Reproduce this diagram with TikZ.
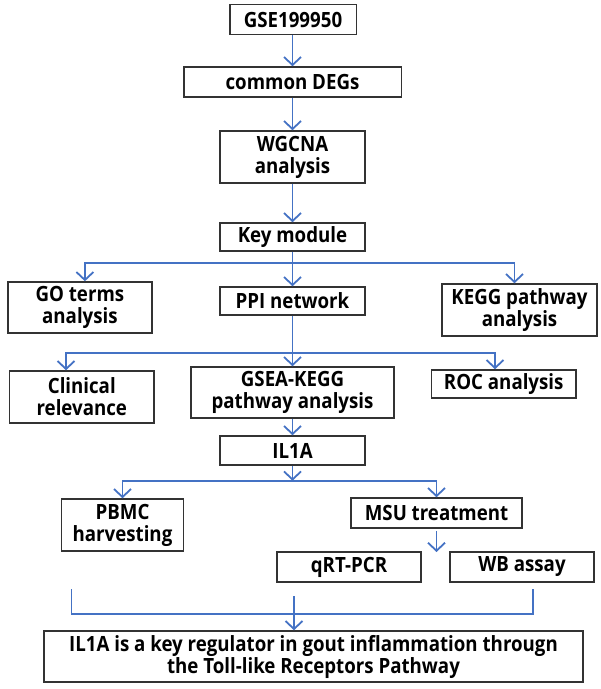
\documentclass[tikz,border=0pt]{standalone}
\usepackage{fontspec}
\setmainfont{Open Sans}[FakeStretch=0.89]
\usetikzlibrary{positioning, arrows.meta}
\definecolor{flowblue}{RGB}{68,114,196}
\tikzset{
	>={Straight Barb[length=4pt,width=8.5pt]}, % open arrow heads
	link/.style={draw=flowblue, line width=0.9pt}, % blue connectors
	box/.style={draw=black!80, line width=0.75pt, align=center, inner sep=0pt,
		font=\bfseries\fontsize{10.5}{11}\selectfont}, % every framed step
	size/.style 2 args={minimum width=#1*0.5pt, minimum height=#2*0.5pt}, % sizes in pixels
}
\begin{document}
\begin{tikzpicture}[x=0.5pt, y=-0.5pt]
	\useasboundingbox (0,0) rectangle (600,689);
			\node[box, size={126.5}{30}] (gse) at (293,19.6) {GSE199950};
			\node[box, size={217.5}{30}] (degs) at (292.5,82) {common DEGs};
			\node[box, size={144.6}{52}] (wgcna) at (292.5,157) {WGCNA\\analysis};
			\node[box, size={144.6}{28}] (key) at (292.5,237) {Key module};
			\node[box, size={144.3}{51}] (go) at (79.9,307.5) {GO terms\\analysis};
			\node[box, size={144.6}{28}] (ppi) at (292.5,301) {PPI network};
			\node[box, size={155}{52}] (kegg) at (519.5,310) {KEGG pathway\\analysis};
			\node[box, size={144.4}{52}] (clin) at (81.8,397) {Clinical\\relevance};
			\node[box, size={203}{51}] (gsea) at (292.5,392.5) {GSEA-KEGG\\pathway analysis};
			\node[box, size={144.5}{28}] (roc) at (503.7,384) {ROC analysis};
			\node[box, size={144.6}{29}] (il1a) at (292.5,450.5) {IL1A};
			\node[box, size={122}{52}] (pbmc) at (122.5,525) {PBMC\\harvesting};
			\node[box, size={171}{30}] (msu) at (436.5,513) {MSU treatment};
			\node[box, size={144}{30}] (qpcr) at (349,567) {qRT-PCR};
			\node[box, size={144}{30}] (wb) at (522,567) {WB assay};
			\node[box, size={539}{51}] (final) at (313.5,656.5) {IL1A is a key regulator in gout inflammation througn\\the Toll-like Receptors Pathway};
	% branch points and loose ends
	\coordinate (s1) at (292.5,263);
	\coordinate (s2) at (292.5,352.7);
	\coordinate (s3) at (292.5,480.7);
	\coordinate (m1) at (436.5,552);
	\coordinate (b1) at (71.5,589);
	\coordinate (b2) at (532.7,589);
	\coordinate (b3) at (294,596);
	\coordinate (j1) at (71.5,614);
	\coordinate (j2) at (532.7,614);
	\draw[link, ->] (gse.south -| degs) -- (degs);
	\draw[link, ->] (degs) -- (wgcna);
	\draw[link, ->] (wgcna) -- (key);
	\draw[link, ->] (key) -- (ppi);
	\draw[link, ->] (s1) -| ([xshift=2.5pt]go.north);
	\draw[link, ->] (s1) -| ([xshift=-2.5pt]kegg.north);
	\draw[link, ->] (ppi) -- (gsea);
	\draw[link, ->] (s2) -| ([xshift=-7.9pt]clin.north);
	\draw[link, ->] (s2) -| ([xshift=-4.35pt]roc.north);
	\draw[link, ->] (gsea) -- (il1a);
	\draw[link, ->] (il1a) -- (s3);
	\draw[link, ->] (s3) -| (pbmc.north);
	\draw[link, ->] (s3) -| (msu.north);
	\draw[link, ->] ([yshift=-1pt]msu.south) -- (m1);
	\draw[link] (b1) -- (j1) -- (j2) -- (b2);
	\draw[link, ->] (b3) -- (final.north -| b3);
\end{tikzpicture}
\end{document}
